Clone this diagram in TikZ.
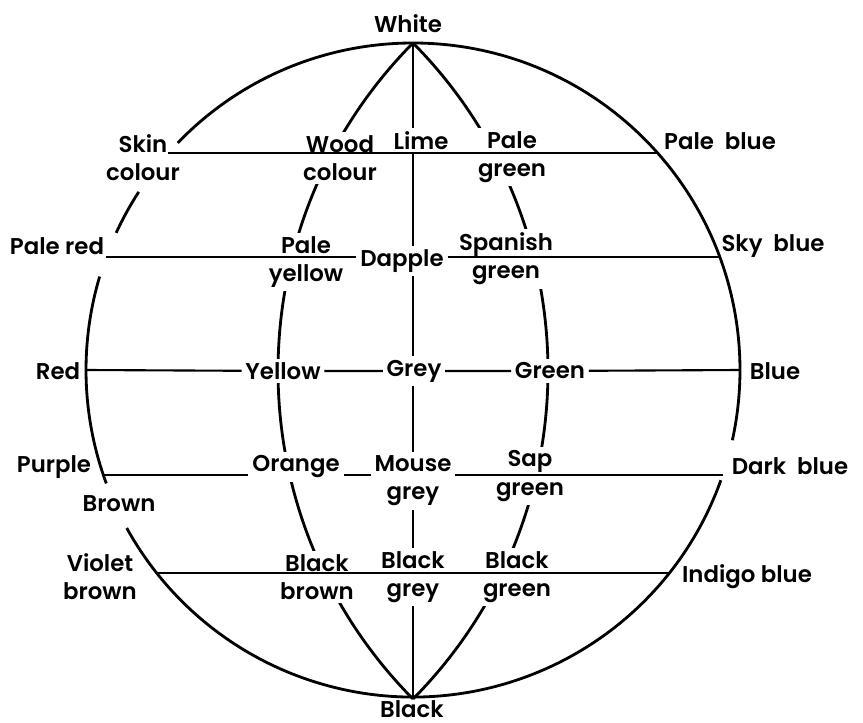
\documentclass[tikz,border=0pt]{standalone}
\usepackage{fontspec}
\setmainfont{Poppins}[UprightFont=*-SemiBold,BoldFont=*-Bold]

\begin{document}
\begin{tikzpicture}[x=0.02cm, y=-0.02cm,
    swatch/.style={font=\fontsize{13}{16}\selectfont, align=center, inner sep=2pt},
    patch/.style={swatch, fill=white},
    ring/.style={line width=1.6pt},
    band/.style={line width=1.2pt}]
    \useasboundingbox (0,0) rectangle (863,723);
    % poles and points on the rim
    \coordinate (o) at (413,370);
    \coordinate (ptop) at (413,43);
    \coordinate (pbot) at (413,697);
    \coordinate (r1w) at (168,153);
    \coordinate (r1e) at (657,153);
    \coordinate (r2w) at (106,257);
    \coordinate (r2e) at (720,257);
    \coordinate (r3w) at (86,370);
    \coordinate (r3e) at (740,370);
    \coordinate (r4w) at (104,475);
    \coordinate (r4e) at (723,475);
    \coordinate (r5w) at (157,573);
    \coordinate (r5e) at (669,573);
    % outer circle, broken at the labels
    \draw[ring] (o) ++(224:327) arc[start angle=224, end angle=372.4, radius=327];
    \draw[ring] (o) ++(19.7:327) arc[start angle=19.7, end angle=151.1, radius=327];
    \draw[ring] (o) ++(159.7:327) arc[start angle=159.7, end angle=196.6, radius=327];
    \draw[ring] (o) ++(204.8:327) arc[start angle=204.8, end angle=213, radius=327];
    % meridians and axis
    \draw[ring] (ptop) arc[start angle=224.74, end angle=135.26, radius=466];
    \draw[ring] (ptop) arc[start angle=-44.74, end angle=44.74, radius=466];
    \draw[ring] (ptop) -- (pbot);
    % poles
    \node[swatch] (white) at (408,24) {White};
    \node[swatch, anchor=north, inner sep=1pt] (black) at (412,698) {Black};
    % first row
    \node[swatch] (skin) at (143,158) {Skin\\colour};
    \node[patch] (wood) at (340,158) {Wood\\colour};
    \node[patch] (lime) at (421,141) {Lime};
    \node[patch] (palegreen) at (512,157) {Pale\\green};
    \node[swatch] (paleblue) at (720,141) {Pale\ \ blue};
    % second row
    \node[swatch] (palered) at (57,246) {Pale red};
    \node[patch] (paleyellow) at (306,262) {Pale\\yellow};
    \node[patch] (dapple) at (402,261) {Dapple};
    \node[patch] (spanish) at (506,259) {Spanish\\green};
    \node[swatch] (skyblue) at (773,246) {Sky\ \ blue};
    % equator
    \node[swatch] (red) at (58,371) {Red};
    \node[patch] (yellow) at (283,371) {Yellow};
    \node[patch] (grey) at (414,371) {Grey};
    \node[patch] (green) at (550,371) {Green};
    \node[swatch] (blue) at (775,371) {Blue};
    % fourth row
    \node[swatch] (purple) at (54,467) {Purple};
    \node[swatch, fill=white] (brown) at (119,504) {Brown};
    \node[patch] (orange) at (296,467) {Orange};
    \node[patch] (mouse) at (413,481) {Mouse\\grey};
    \node[patch] (sap) at (530,476) {Sap\\green};
    \node[swatch, fill=white] (darkblue) at (790,466) {Dark\ \ blue};
    % fifth row
    \node[swatch] (violet) at (100,577) {Violet\\brown};
    \node[patch] (blackbrown) at (317,577) {Black\\brown};
    \node[patch] (blackgrey) at (413,577) {Black\\grey};
    \node[patch] (blackgreen) at (517,577) {Black\\green};
    \node[swatch] (indigo) at (747,577) {Indigo blue};
    % latitudes
    \draw[band] (r1w) -- (r1e);
    \draw[band] (r2w) -- (r2w -| dapple.west) (r2e -| dapple.east) -- (r2e);
    \draw[band] (r3w) -- (yellow) -- (grey) -- (green) -- (r3e);
    \draw[band] (r4w) -- (r4w -| orange.west) (r4w -| orange.east) -- (r4w -| mouse.west)
        (r4w -| mouse.east) -- (r4e);
    \draw[band] (r5w) -- (r5e);
\end{tikzpicture}
\end{document}
